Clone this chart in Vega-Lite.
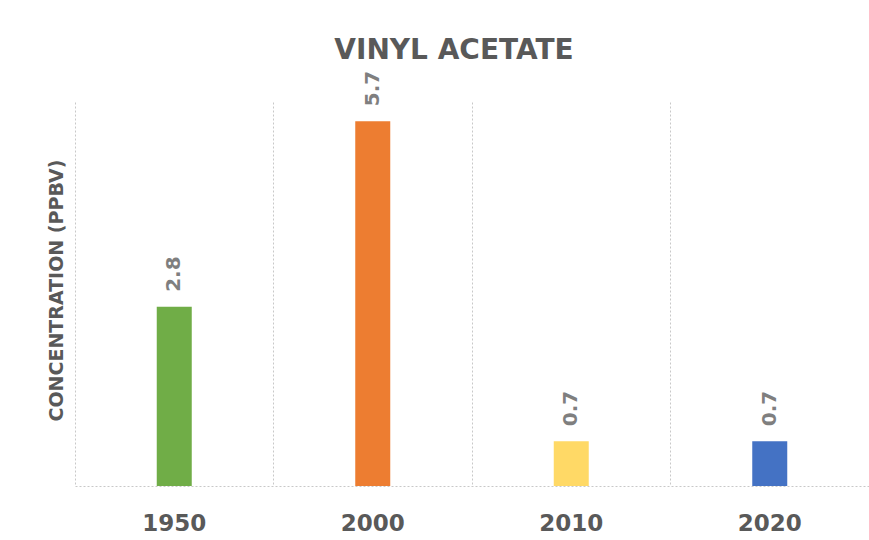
{
  "$schema": "https://vega.github.io/schema/vega-lite/v6.json",
  "autosize": "none",
  "padding": {"left": 75, "top": 102, "right": 0, "bottom": 54},
  "width": 794,
  "height": 384,
  "background": "white",
  "config": {"view": {"stroke": null}},
  "title": {
    "text": "VINYL ACETATE",
    "anchor": "middle",
    "frame": "group",
    "dx": -18,
    "offset": 6,
    "font": "DejaVu Sans",
    "fontSize": 28,
    "fontWeight": "bold",
    "color": "#595959"
  },
  "data": {
    "values": [
      {"year": "1950", "value": 2.8},
      {"year": "2000", "value": 5.7},
      {"year": "2010", "value": 0.7},
      {"year": "2020", "value": 0.7}
    ]
  },
  "encoding": {
    "x": {
      "field": "year",
      "type": "nominal",
      "sort": null,
      "scale": {"paddingInner": 0, "paddingOuter": 0},
      "axis": {
        "title": null,
        "labelAngle": 0,
        "labelFont": "DejaVu Sans",
        "labelFontSize": 23,
        "labelFontWeight": "bold",
        "labelColor": "#595959",
        "labelPadding": 26,
        "labelBaseline": "top",
        "ticks": false,
        "bandPosition": 0,
        "grid": true,
        "gridColor": "#c8c8c8",
        "gridDash": [2, 2],
        "gridWidth": 1,
        "domain": true,
        "domainColor": "#c8c8c8",
        "domainDash": [2, 2],
        "domainWidth": 1
      }
    },
    "y": {
      "field": "value",
      "type": "quantitative",
      "scale": {"domain": [0, 6], "nice": false},
      "axis": {
        "title": "CONCENTRATION (PPBV)",
        "titleFont": "DejaVu Sans",
        "titleFontSize": 19,
        "titleFontWeight": "bold",
        "titleColor": "#595959",
        "titleX": -9,
        "titleY": 188,
        "titleAngle": -90,
        "titleBaseline": "bottom",
        "titleAlign": "center",
        "labels": false,
        "ticks": false,
        "domain": false,
        "grid": false
      }
    }
  },
  "layer": [
    {
      "mark": {"type": "bar", "width": 35},
      "encoding": {
        "color": {
          "field": "year",
          "type": "nominal",
          "sort": null,
          "scale": {
            "domain": ["1950", "2000", "2010", "2020"],
            "range": ["#70AD47", "#ED7D31", "#FFD966", "#4472C4"]
          },
          "legend": null
        }
      }
    },
    {
      "mark": {
        "type": "text",
        "angle": 270,
        "align": "left",
        "baseline": "middle",
        "dx": 15,
        "font": "DejaVu Sans",
        "fontSize": 20,
        "fontWeight": "bold",
        "color": "#7f7f7f"
      },
      "encoding": {
        "text": {"field": "value", "type": "quantitative", "format": ".1f"}
      }
    }
  ]
}
